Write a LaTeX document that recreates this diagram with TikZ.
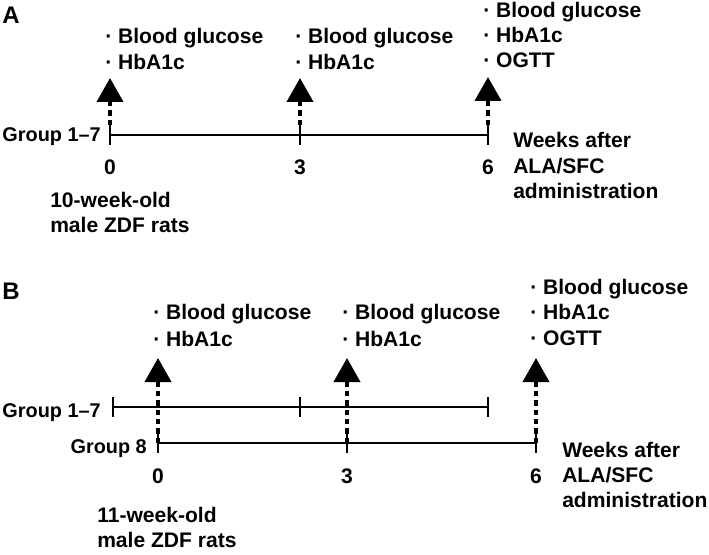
\documentclass[tikz,border=0pt]{standalone}
\usepackage{fontspec}
\setmainfont{Liberation Sans}
\usetikzlibrary{arrows.meta}
\begin{document}
\begin{tikzpicture}[x=0.75pt,y=-0.75pt,
  lbl/.style={font=\bfseries\fontsize{15.8}{18}\selectfont, inner sep=0pt},
  lw/.style={lbl, anchor=base west},
  lc/.style={lbl, anchor=base},
  le/.style={lbl, anchor=base east, font=\bfseries\fontsize{14.9}{18}\selectfont},
  panel/.style={font=\bfseries\fontsize{18}{20}\selectfont, inner sep=0pt, anchor=base west},
  tl/.style={line width=2pt},
  stem/.style={line width=3pt, dash pattern=on 4pt off 3pt, -{Triangle[width=19.5pt,length=18pt]}},
]
\useasboundingbox (0,0) rectangle (709,555);
% ---------------- Panel A ----------------
\node[panel] (pA) at (2,24) {A};
\node[le] (gA) at (101,142) {Group 1–7};
\coordinate (a0) at (110,135);
\coordinate (a3) at (300,135);
\coordinate (a6) at (488,135);
\draw[tl] (a0) -- (a6);
\foreach \p in {a0,a3,a6} \draw[tl] (\p) ++(0,-10) -- ++(0,20);
\coordinate (a0s) at (110,125); \coordinate (a0t) at (110,78);
\coordinate (a3s) at (300,125); \coordinate (a3t) at (300,78);
\coordinate (a6s) at (488,125); \coordinate (a6t) at (488,77);
\draw[stem] (a0s) -- (a0t);
\draw[stem] (a3s) -- (a3t);
\draw[stem] (a6s) -- (a6t);
\node[lc] (la0) at (110,175) {0};
\node[lc] (la3) at (300,175) {3};
\node[lc] (la6) at (488,175) {6};
\node[lw] (ra1) at (50,208) {10-week-old};
\node[lw] (ra2) at (50,233) {male ZDF rats};
\node[lw] (wa1) at (513,148) {Weeks after};
\node[lw] (wa2) at (513,174) {ALA/SFC};
\node[lw] (wa3) at (513,199) {administration};
\node[lw] (ta01) at (105,44) {· Blood glucose};
\node[lw] (ta02) at (105,70) {· HbA1c};
\node[lw] (ta31) at (295,44) {· Blood glucose};
\node[lw] (ta32) at (295,70) {· HbA1c};
\node[lw] (ta61) at (483,18) {· Blood glucose};
\node[lw] (ta62) at (483,43) {· HbA1c};
\node[lw] (ta63) at (483,68) {· OGTT};
% ---------------- Panel B ----------------
\node[panel] (pB) at (2,300) {B};
\node[le] (gB1) at (101,417) {Group 1–7};
\node[le] (gB8) at (147,453) {Group 8};
\coordinate (b0) at (113,407);
\coordinate (b3) at (300,407);
\coordinate (b6) at (488,407);
\draw[tl] (b0) -- (b6);
\foreach \p in {b0,b3,b6} \draw[tl] (\p) ++(0,-10) -- ++(0,20);
\coordinate (c0) at (158,443);
\coordinate (c3) at (347,443);
\coordinate (c6) at (536,443);
\draw[tl] (c0) -- (c6);
\foreach \p in {c0,c3,c6} \draw[tl] (\p) ++(0,-10) -- ++(0,20);
\coordinate (c0t) at (158,358);
\coordinate (c3t) at (347,358);
\coordinate (c6t) at (536,358);
\draw[stem] (c0) -- (c0t);
\draw[stem] (c3) -- (c3t);
\draw[stem] (c6) -- (c6t);
\node[lc] (lb0) at (158,483) {0};
\node[lc] (lb3) at (347,483) {3};
\node[lc] (lb6) at (536,483) {6};
\node[lw] (rb1) at (97,522) {11-week-old};
\node[lw] (rb2) at (97,547) {male ZDF rats};
\node[lw] (wb1) at (562,457) {Weeks after};
\node[lw] (wb2) at (562,482) {ALA/SFC};
\node[lw] (wb3) at (562,507) {administration};
\node[lw] (tb01) at (153,320) {· Blood glucose};
\node[lw] (tb02) at (153,346) {· HbA1c};
\node[lw] (tb31) at (342,320) {· Blood glucose};
\node[lw] (tb32) at (342,346) {· HbA1c};
\node[lw] (tb61) at (530,295) {· Blood glucose};
\node[lw] (tb62) at (530,320) {· HbA1c};
\node[lw] (tb63) at (530,345) {· OGTT};
\end{tikzpicture}
\end{document}
